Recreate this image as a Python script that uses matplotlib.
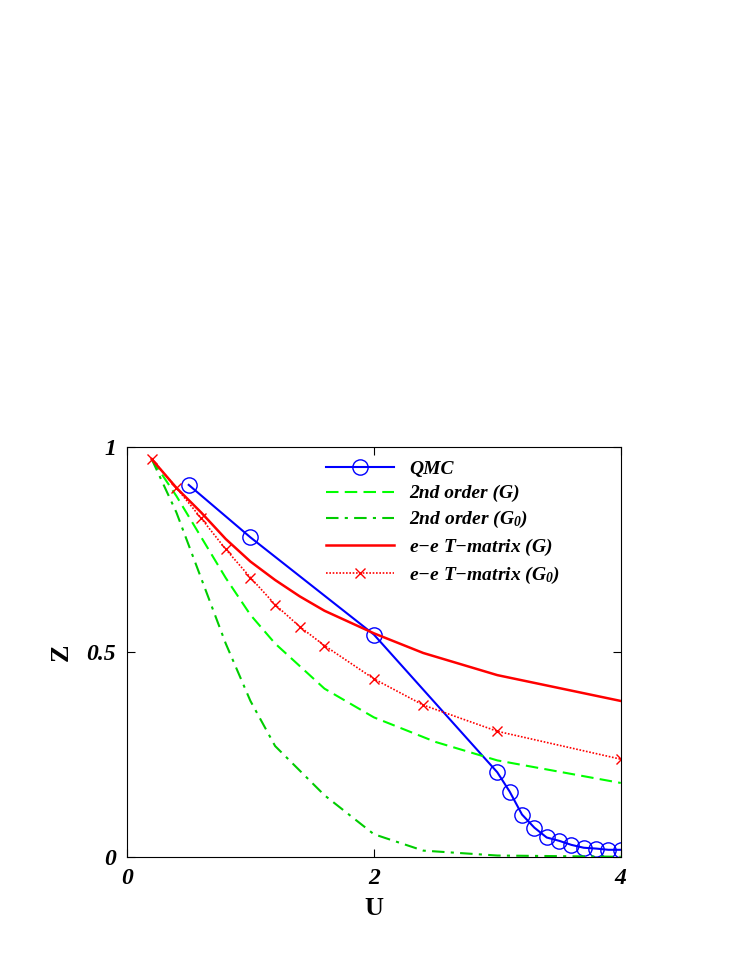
import matplotlib
matplotlib.use("Agg")
import matplotlib.pyplot as plt

u_qmc = [0.5, 1.0, 2.0, 3.0, 3.1, 3.2, 3.3, 3.4, 3.5, 3.6, 3.7, 3.8, 3.9, 4.0]
z_qmc = [0.907, 0.779, 0.542, 0.206, 0.159, 0.103, 0.071, 0.047, 0.039, 0.029, 0.022, 0.020, 0.017, 0.017]

u_2g = [0.2, 0.4, 0.6, 0.8, 1.0, 1.2, 1.6, 2.0, 2.5, 3.0, 4.0]
z_2g = [0.97, 0.88, 0.78, 0.68, 0.59, 0.52, 0.41, 0.34, 0.28, 0.235, 0.18]

u_2g0 = [0.2, 0.4, 0.6, 0.8, 1.0, 1.2, 1.6, 2.0, 2.4, 3.0, 4.0]
z_2g0 = [0.97, 0.84, 0.68, 0.52, 0.38, 0.27, 0.15, 0.055, 0.015, 0.003, 0.0]

u_tg = [0.2, 0.4, 0.6, 0.8, 1.0, 1.2, 1.4, 1.6, 2.0, 2.4, 3.0, 4.0]
z_tg = [0.97, 0.90, 0.84, 0.775, 0.72, 0.675, 0.635, 0.60, 0.545, 0.497, 0.443, 0.38]

u_tg0 = [0.2, 0.4, 0.6, 0.8, 1.0, 1.2, 1.4, 1.6, 2.0, 2.4, 3.0, 4.0]
z_tg0 = [0.97, 0.90, 0.826, 0.75, 0.681, 0.615, 0.561, 0.515, 0.434, 0.37, 0.306, 0.238]

plt.rcParams["font.family"] = "Liberation Serif"
plt.rcParams["mathtext.fontset"] = "custom"
plt.rcParams["mathtext.it"] = "Liberation Serif:italic:bold"
plt.rcParams["mathtext.rm"] = "Liberation Serif:italic:bold"

fig = plt.figure(figsize=(7.47, 9.67), dpi=100)
ax = fig.add_axes([0.170, 0.114, 0.661, 0.424])

ax.plot(u_qmc, z_qmc, color="#0000ff", lw=1.5, marker="o", ms=11, mfc="none", mec="#0000ff", label="QMC")
ax.plot(u_2g, z_2g, color="#00ff00", lw=1.5, ls=(0, (6, 3)), label="2nd order (G)")
ax.plot(u_2g0, z_2g0, color="#00cc00", lw=1.5, ls=(0, (6, 3, 1.5, 3)), label="2nd order (G$_0$)")
ax.plot(u_tg, z_tg, color="#ff0000", lw=1.8, label="e$-$e T$-$matrix (G)")
ax.plot(u_tg0, z_tg0, color="#ff0000", lw=1.2, ls=(0, (1, 1)), marker="x", ms=7, mew=1.0, label="e$-$e T$-$matrix (G$_0$)")

ax.set_xlim(0, 4)
ax.set_ylim(0, 1)
ax.set_xticks([0, 2, 4])
ax.set_yticks([0, 0.5, 1])
ax.set_xticklabels(["0", "2", "4"])
ax.set_yticklabels(["0", "0.5", "1"])
for t in ax.get_xticklabels() + ax.get_yticklabels():
    t.set_fontsize(17); t.set_fontweight("bold"); t.set_fontstyle("italic")
ax.tick_params(direction="in", length=6, top=True, right=True, pad=8)
ax.set_xlabel("U", fontsize=19, fontweight="bold", labelpad=6)
ax.set_ylabel("Z", fontsize=19, fontweight="bold", labelpad=10)

leg = ax.legend(loc="upper right", bbox_to_anchor=(0.905, 1.0), frameon=False,
                prop={"family": "Liberation Serif", "style": "italic", "weight": "bold", "size": 14},
                handlelength=3.5, labelspacing=0.35, borderaxespad=0.3)
fig.savefig("out.png", dpi=100)
